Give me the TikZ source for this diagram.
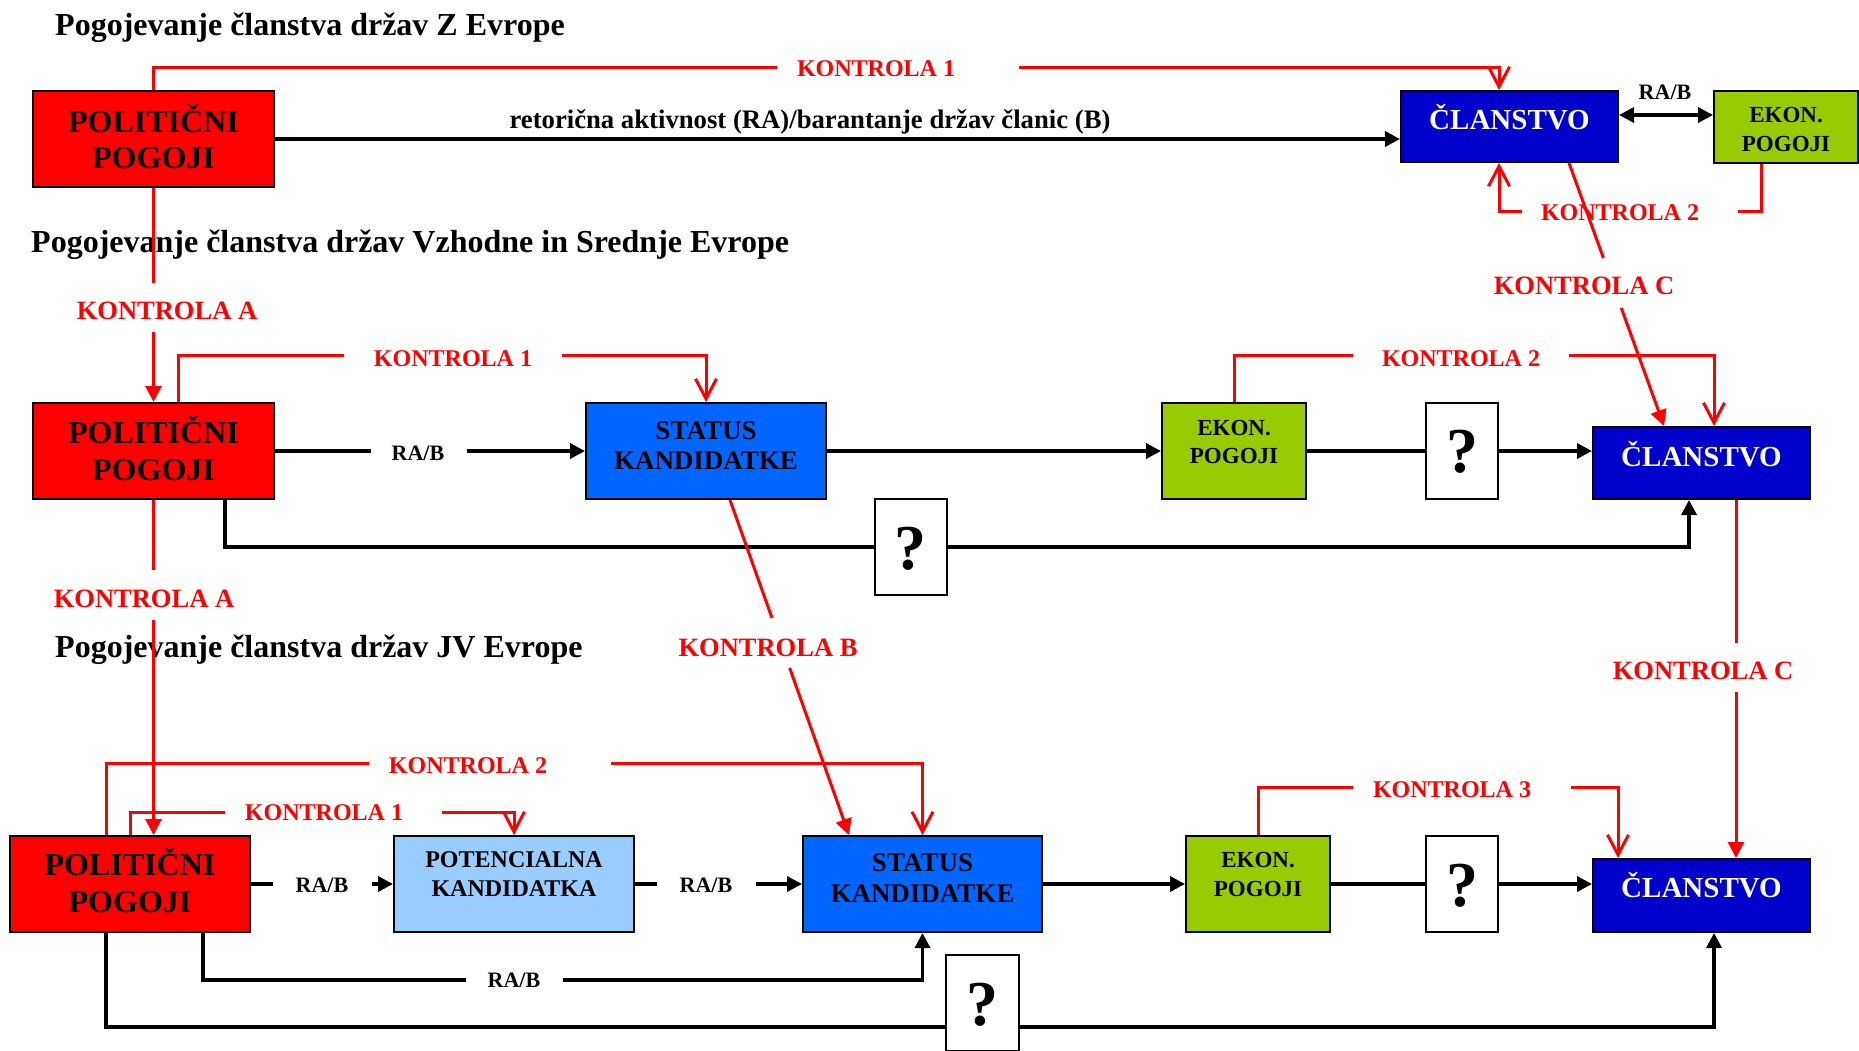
\documentclass[tikz,border=0pt]{standalone}
\usepackage{fontspec}
\setmainfont{Liberation Serif}
\usetikzlibrary{arrows.meta}

\definecolor{polred}{HTML}{FF0000}
\definecolor{ctrlred}{HTML}{FF0000}
\definecolor{clanblue}{HTML}{0000CC}
\definecolor{statblue}{HTML}{0066FF}
\definecolor{potblue}{HTML}{99CCFF}
\definecolor{ekongreen}{HTML}{99CC00}

\newcommand\fz[1]{\fontsize{#1}{#1}\selectfont\bfseries}
% two text lines inside a box, placed by their baselines below the box top
\newcommand\boxlines[7]{%
  \node[txt,font=\fz{#3}] (#1a) at ([yshift=-#4pt]#2.north) {#6};
  \node[txt,font=\fz{#3}] (#1b) at ([yshift=-#5pt]#2.north) {#7};}

\begin{document}
\begin{tikzpicture}[x=1pt,y=-1pt,
  txt/.style={anchor=base,inner sep=0pt},
  title/.style={anchor=base west,inner sep=0pt,font=\fz{32}},
  klab/.style={txt,font=\fz{24},text=ctrlred},
  klabl/.style={txt,font=\fz{26.5},text=ctrlred},
  rab/.style={txt,font=\fz{22}},
  box/.style={draw=black,line width=2pt,inner sep=0pt},
  wide/.style={box,minimum width=241pt,minimum height=96pt},
  ekon/.style={box,fill=ekongreen,minimum width=144pt,minimum height=96pt},
  qbox/.style={box,fill=white,minimum width=72pt,minimum height=96pt},
  clan/.style={box,fill=clanblue,minimum width=217pt,minimum height=72pt},
  blk/.style={line width=3.5pt,draw=black},
  blkarrow/.style={blk,-{Triangle[length=15pt,width=15pt]}},
  ctrl/.style={line width=3pt,draw=ctrlred},
  ctrlopen/.style={ctrl,-{Straight Barb[length=20pt,width=21pt]}},
  ctrlfull/.style={ctrl,-{Triangle[length=16pt,width=16pt]}}]
\useasboundingbox (0,0) rectangle (1859,1050);
\clip (0,0) rectangle (1859,1050);
\fill[white] (0,0) rectangle (1859,1050);

% section titles
\node[title] (t1) at (55,35) {Pogojevanje članstva držav Z Evrope};
\node[title] (t2) at (31,252) {Pogojevanje članstva držav Vzhodne in Srednje Evrope};
\node[title] (t3) at (55,657) {Pogojevanje članstva držav JV Evrope};

% ---------- western Europe ----------
\node[wide,fill=polred] (pp1) at (153.5,139) {};
\boxlines{pp1t}{pp1}{32}{42}{78}{POLITIČNI}{POGOJI}
\node[clan,minimum height=71pt] (cl1) at (1509.5,126.5) {};
\node[txt,font=\fz{29},text=white] (cl1t) at ([yshift=-39pt]cl1.north) {ČLANSTVO};
\node[ekon,minimum height=72pt] (ek1) at (1786,127) {};
\boxlines{ek1t}{ek1}{23}{32}{61}{EKON.}{POGOJI}

% ---------- central and eastern Europe ----------
\node[wide,fill=polred] (pp2) at (153.5,451) {};
\boxlines{pp2t}{pp2}{32}{41}{78}{POLITIČNI}{POGOJI}
\node[wide,fill=statblue,minimum width=240pt] (st2) at (706,451) {};
\boxlines{st2t}{st2}{27}{37}{67}{STATUS}{KANDIDATKE}
\node[ekon] (ek2) at (1234,451) {};
\boxlines{ek2t}{ek2}{23}{33}{61}{EKON.}{POGOJI}
\node[qbox] (q2) at (1462,451) {};
\node[txt,font=\fz{64}] (q2t) at ([yshift=-70pt]q2.north) {?};
\node[clan] (cl2) at (1701.5,463) {};
\node[txt,font=\fz{29},text=white] (cl2t) at ([yshift=-40pt]cl2.north) {ČLANSTVO};
\node[qbox] (q2b) at (910.5,547) {};
\node[txt,font=\fz{64}] (q2bt) at ([yshift=-71pt]q2b.north) {?};

% ---------- south-eastern Europe ----------
\node[wide,fill=polred,minimum width=240pt] (pp3) at (130,884) {};
\boxlines{pp3t}{pp3}{32}{40}{77}{POLITIČNI}{POGOJI}
\node[wide,fill=potblue,minimum width=240pt] (pk3) at (514,884) {};
\boxlines{pk3t}{pk3}{24}{32}{61}{POTENCIALNA}{KANDIDATKA}
\node[wide,fill=statblue,minimum width=239pt] (st3) at (922.5,884) {};
\boxlines{st3t}{st3}{27}{36}{67}{STATUS}{KANDIDATKE}
\node[ekon] (ek3) at (1258,884) {};
\boxlines{ek3t}{ek3}{23}{32}{61}{EKON.}{POGOJI}
\node[qbox] (q3) at (1462,884) {};
\node[txt,font=\fz{64}] (q3t) at ([yshift=-71pt]q3.north) {?};
\node[clan,minimum height=73pt] (cl3) at (1701.5,895.5) {};
\node[txt,font=\fz{29},text=white] (cl3t) at ([yshift=-39pt]cl3.north) {ČLANSTVO};
\node[qbox,minimum width=73pt] (q3b) at (982.5,1003) {};
\node[txt,font=\fz{64}] (q3bt) at ([yshift=-71pt]q3b.north) {?};

% ---------- labels on connectors ----------
\node[rab,font=\fz{26.7}] (ret) at (810,128) {retorična aktivnost (RA)/barantanje držav članic (B)};
\node[rab] (rab1) at (1665,99) {RA/B};
\node[rab] (rab2) at (418,460) {RA/B};
\node[rab] (rab3) at (322,892) {RA/B};
\node[rab] (rab4) at (706,892) {RA/B};
\node[rab] (rab5) at (514,987) {RA/B};

\node[klab] (k1t) at (876,76) {KONTROLA 1};
\node[klab] (k2t) at (1620,220) {KONTROLA 2};
\node[klabl] (kct) at (1584,294) {KONTROLA C};
\node[klabl] (kat) at (167,319) {KONTROLA A};
\node[klab] (k1m) at (453,366) {KONTROLA 1};
\node[klab] (k2m) at (1461,366) {KONTROLA 2};
\node[klabl] (kbm) at (768,656) {KONTROLA B};
\node[klabl] (kcm) at (1703,679) {KONTROLA C};
\node[klabl] (kam) at (144,607) {KONTROLA A};
\node[klab] (k2b) at (468,773) {KONTROLA 2};
\node[klab] (k1b) at (324,820) {KONTROLA 1};
\node[klab] (k3b) at (1452,797) {KONTROLA 3};

% break points of the connectors around their labels
\coordinate (k1tl) at (777,67);    \coordinate (k1tr) at (1019,67);
\coordinate (k2tl) at (1522,211);  \coordinate (k2tr) at (1738,211);
\coordinate (kcta) at (1603.4,258);\coordinate (kctb) at (1621.3,308);
\coordinate (kata) at (153.5,283); \coordinate (katb) at (153.5,332);
\coordinate (k1ml) at (344,355);   \coordinate (k1mr) at (562,355);
\coordinate (k2ml) at (1353,355);  \coordinate (k2mr) at (1569,355);
\coordinate (kba) at (772,618);    \coordinate (kbb) at (789.7,668);
\coordinate (kcma) at (1736,643);  \coordinate (kcmb) at (1736,692);
\coordinate (kama) at (153.5,570); \coordinate (kamb) at (153.5,620);
\coordinate (k2bl) at (369,763);   \coordinate (k2br) at (611,763);
\coordinate (k1bl) at (225,812);   \coordinate (k1br) at (442,812);
\coordinate (k3l) at (1353,787);   \coordinate (k3r) at (1571,787);
\coordinate (rab2a) at (371,451);  \coordinate (rab2b) at (467,451);
\coordinate (rab3a) at (273,884);  \coordinate (rab3b) at (372,884);
\coordinate (rab4a) at (657,884);  \coordinate (rab4b) at (756,884);
\coordinate (rab5a) at (466,980);  \coordinate (rab5b) at (563,980);

% ---------- black flows ----------
\draw[blkarrow] (pp1.east) -- (pp1.east -| cl1.west);
\draw[blk,{Triangle[length=15pt,width=15pt]}-{Triangle[length=15pt,width=15pt]}]
  ([yshift=11.5pt]cl1.east) -- ([yshift=11.5pt]cl1.east -| ek1.west);

\draw[blk] (pp2.east) -- (rab2a);
\draw[blkarrow] (rab2b) -- (st2.west);
\draw[blkarrow] (st2.east) -- (ek2.west);
\draw[blk] (ek2.east) -- (q2.west);
\draw[blkarrow] (q2.east) -- (q2.east -| cl2.west);
\draw[blk] ([xshift=71.5pt]pp2.south) |- (q2b.west);
\draw[blkarrow] (q2b.east) -| ([xshift=-12.5pt]cl2.south);

\draw[blk] (pp3.east) -- (rab3a);
\draw[blkarrow] (rab3b) -- (pk3.west);
\draw[blk] (pk3.east) -- (rab4a);
\draw[blkarrow] (rab4b) -- (st3.west);
\draw[blkarrow] (st3.east) -- (ek3.west);
\draw[blk] (ek3.east) -- (q3.west);
\draw[blkarrow] (q3.east) -- (q3.east -| cl3.west);
\draw[blk] ([xshift=73pt]pp3.south) |- (rab5a);
\draw[blkarrow] (rab5b) -| (st3.south);
\draw[blk] ([xshift=-24pt]pp3.south) |- ([yshift=-24pt]q3b.west);
\draw[blkarrow] ([yshift=-24pt]q3b.east) -| ([xshift=12.5pt]cl3.south);

% ---------- red controls ----------
\draw[ctrl] (pp1.north) |- (k1tl);
\draw[ctrlopen] (k1tr) -| ([xshift=-10.5pt]cl1.north);
\draw[ctrl] ([xshift=-25pt]ek1.south) |- (k2tr);
\draw[ctrlopen] (k2tl) -| ([xshift=-10.5pt]cl1.south);
\draw[ctrl] ([xshift=59.5pt]cl1.south) -- (kcta);
\draw[ctrlfull] (kctb) -- ([xshift=-37.5pt]cl2.north);
\draw[ctrl] (pp1.south) -- (kata);
\draw[ctrlfull] (katb) -- (pp2.north);

\draw[ctrl] ([xshift=24.5pt]pp2.north) |- (k1ml);
\draw[ctrlopen] (k1mr) -| (st2.north);
\draw[ctrl] (ek2.north) |- (k2ml);
\draw[ctrlopen] (k2mr) -| ([xshift=12.5pt]cl2.north);
\draw[ctrl] ([xshift=24pt]st2.south) -- (kba);
\draw[ctrlfull] (kbb) -- ([xshift=-73.5pt]st3.north);
\draw[ctrl] ([xshift=34.5pt]cl2.south) -- (kcma);
\draw[ctrlfull] (kcmb) -- ([xshift=34.5pt]cl3.north);
\draw[ctrl] (pp2.south) -- (kama);
\draw[ctrlfull] (kamb) -- ([xshift=23.5pt]pp3.north);

\draw[ctrl] ([xshift=-24pt]pp3.north) |- (k2bl);
\draw[ctrlopen] (k2br) -| (st3.north);
\draw[ctrl] (pp3.north) |- (k1bl);
\draw[ctrlopen] (k1br) -| (pk3.north);
\draw[ctrl] (ek3.north) |- (k3l);
\draw[ctrlopen] (k3r) -| ([xshift=-83.5pt]cl3.north);
\end{tikzpicture}
\end{document}
